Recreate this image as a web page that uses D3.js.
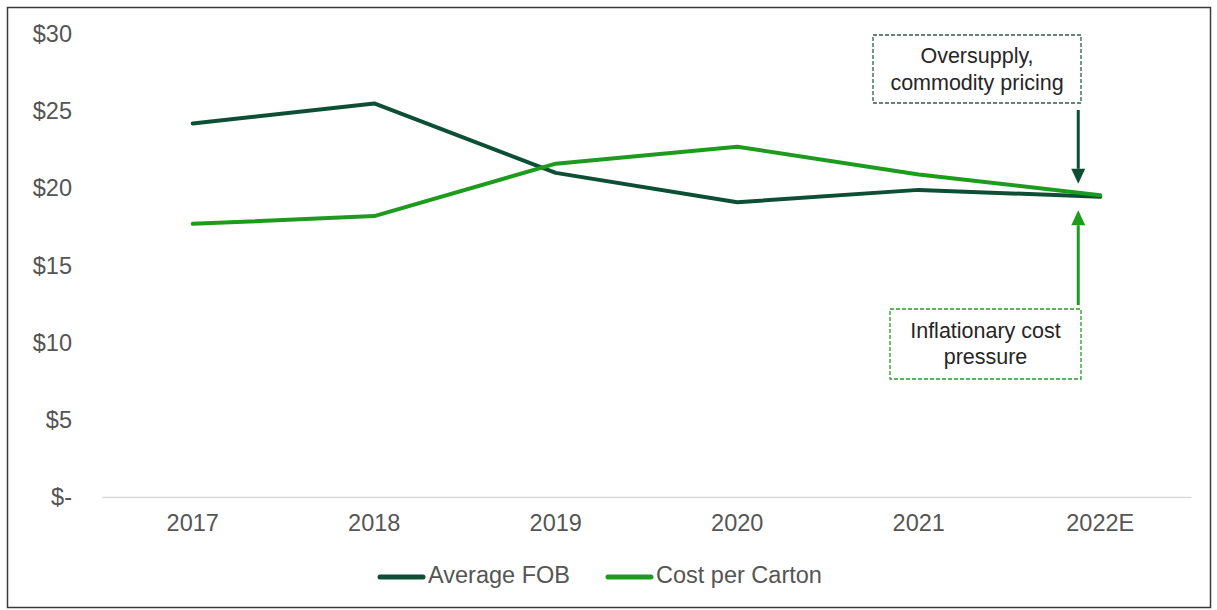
<!DOCTYPE html>
<html>
<head>
<meta charset="utf-8">
<script src="https://cdn.jsdelivr.net/npm/d3@7"></script>
<style>
  html, body { margin: 0; padding: 0; background: #fff; }
  svg { display: block; font-family: "Liberation Sans", Arial, sans-serif; }
</style>
</head>
<body>
<svg id="chart" width="1217" height="610"></svg>
<script>
// Categories and series
const years = ["2017", "2018", "2019", "2020", "2021", "2022E"];
const averageFOB = [24.2, 25.5, 21.0, 19.1, 19.9, 19.45];
const costPerCarton = [17.7, 18.2, 21.6, 22.7, 20.9, 19.55];
const yTicks = [0, 5, 10, 15, 20, 25, 30];
const seriesNames = ["Average FOB", "Cost per Carton"];
const seriesColors = ["#0d4f36", "#1d9b1d"];

const svg = d3.select("#chart");
const plot = { left: 102, right: 1191, top: 34, bottom: 497 };
const labelSize = 23.5;

// Outer frame
svg.append("rect")
  .attr("x", 7.5).attr("y", 7.5)
  .attr("width", 1203).attr("height", 600)
  .attr("fill", "#fff")
  .attr("stroke", "#3a3a3a")
  .attr("stroke-width", 1.5);

const x = d3.scaleBand().domain(years).range([plot.left, plot.right]);
const y = d3.scaleLinear().domain([0, 30]).range([plot.bottom, plot.top]);
const cx = d => x(d) + x.bandwidth() / 2;

// Y axis labels
const yAxis = d3.axisLeft(y)
  .tickValues(yTicks)
  .tickSize(0)
  .tickPadding(30)
  .tickFormat(v => v === 0 ? "$-" : "$" + v);
const gy = svg.append("g").attr("transform", `translate(${plot.left},0)`).call(yAxis);
gy.select(".domain").remove();
gy.selectAll("text")
  .attr("fill", "#555")
  .attr("font-size", labelSize)
  .attr("font-family", "Liberation Sans, Arial, sans-serif");

// Baseline and category labels
const xAxis = d3.axisBottom(x).tickSize(0).tickPadding(17);
const gx = svg.append("g").attr("transform", `translate(0,${y(0)})`).call(xAxis);
gx.select(".domain").attr("stroke", "#d9d9d9").attr("stroke-width", 1.5);
gx.selectAll("text")
  .attr("fill", "#555")
  .attr("font-size", labelSize)
  .attr("font-family", "Liberation Sans, Arial, sans-serif");

// Series lines
const line = d3.line().x((d, i) => cx(years[i])).y(d => y(d));
[averageFOB, costPerCarton].forEach((vals, k) => {
  svg.append("path")
    .datum(vals)
    .attr("d", line)
    .attr("fill", "none")
    .attr("stroke", seriesColors[k])
    .attr("stroke-width", 4)
    .attr("stroke-linejoin", "round")
    .attr("stroke-linecap", "round");
});

// Annotations
const lastX = cx("2022E");
const arrowX = lastX - 22;

function box(x0, y0, w, h, color, lines, ly) {
  svg.append("rect")
    .attr("x", x0).attr("y", y0).attr("width", w).attr("height", h)
    .attr("fill", "#fff")
    .attr("stroke", color)
    .attr("stroke-width", 1.3)
    .attr("stroke-dasharray", "4,2");
  lines.forEach((t, i) => {
    svg.append("text")
      .attr("x", x0 + w / 2).attr("y", ly[i])
      .attr("text-anchor", "middle")
      .attr("dominant-baseline", "middle")
      .attr("font-size", 21.5)
      .attr("fill", "#262626")
      .text(t);
  });
}

function arrow(x0, yFrom, yTip, color) {
  const dir = yTip > yFrom ? 1 : -1;
  const headLen = 15, headHalf = 7;
  svg.append("line")
    .attr("x1", x0).attr("x2", x0)
    .attr("y1", yFrom).attr("y2", yTip - dir * headLen)
    .attr("stroke", color).attr("stroke-width", 3);
  svg.append("path")
    .attr("d", `M${x0 - headHalf},${yTip - dir * headLen} L${x0 + headHalf},${yTip - dir * headLen} L${x0},${yTip} Z`)
    .attr("fill", color);
}

box(873, 35, 208, 68, "#2f5f4a", ["Oversupply,", "commodity pricing"], [57, 84]);
arrow(arrowX, 110, y(averageFOB[5]) - 13, seriesColors[0]);

box(890, 309, 191, 70, "#2a9a2a", ["Inflationary cost", "pressure"], [332, 358]);
arrow(arrowX, 305, y(costPerCarton[5]) + 15, seriesColors[1]);

// Legend
const legend = svg.append("g");
const legendItems = [
  { name: seriesNames[0], color: seriesColors[0], x: 380 },
  { name: seriesNames[1], color: seriesColors[1], x: 608 }
];
legendItems.forEach(d => {
  legend.append("line")
    .attr("x1", d.x).attr("x2", d.x + 43)
    .attr("y1", 577).attr("y2", 577)
    .attr("stroke", d.color).attr("stroke-width", 5)
    .attr("stroke-linecap", "round");
  legend.append("text")
    .attr("x", d.x + 48).attr("y", 577)
    .attr("dominant-baseline", "middle")
    .attr("font-size", labelSize)
    .attr("fill", "#555")
    .text(d.name);
});
</script>
</body>
</html>
